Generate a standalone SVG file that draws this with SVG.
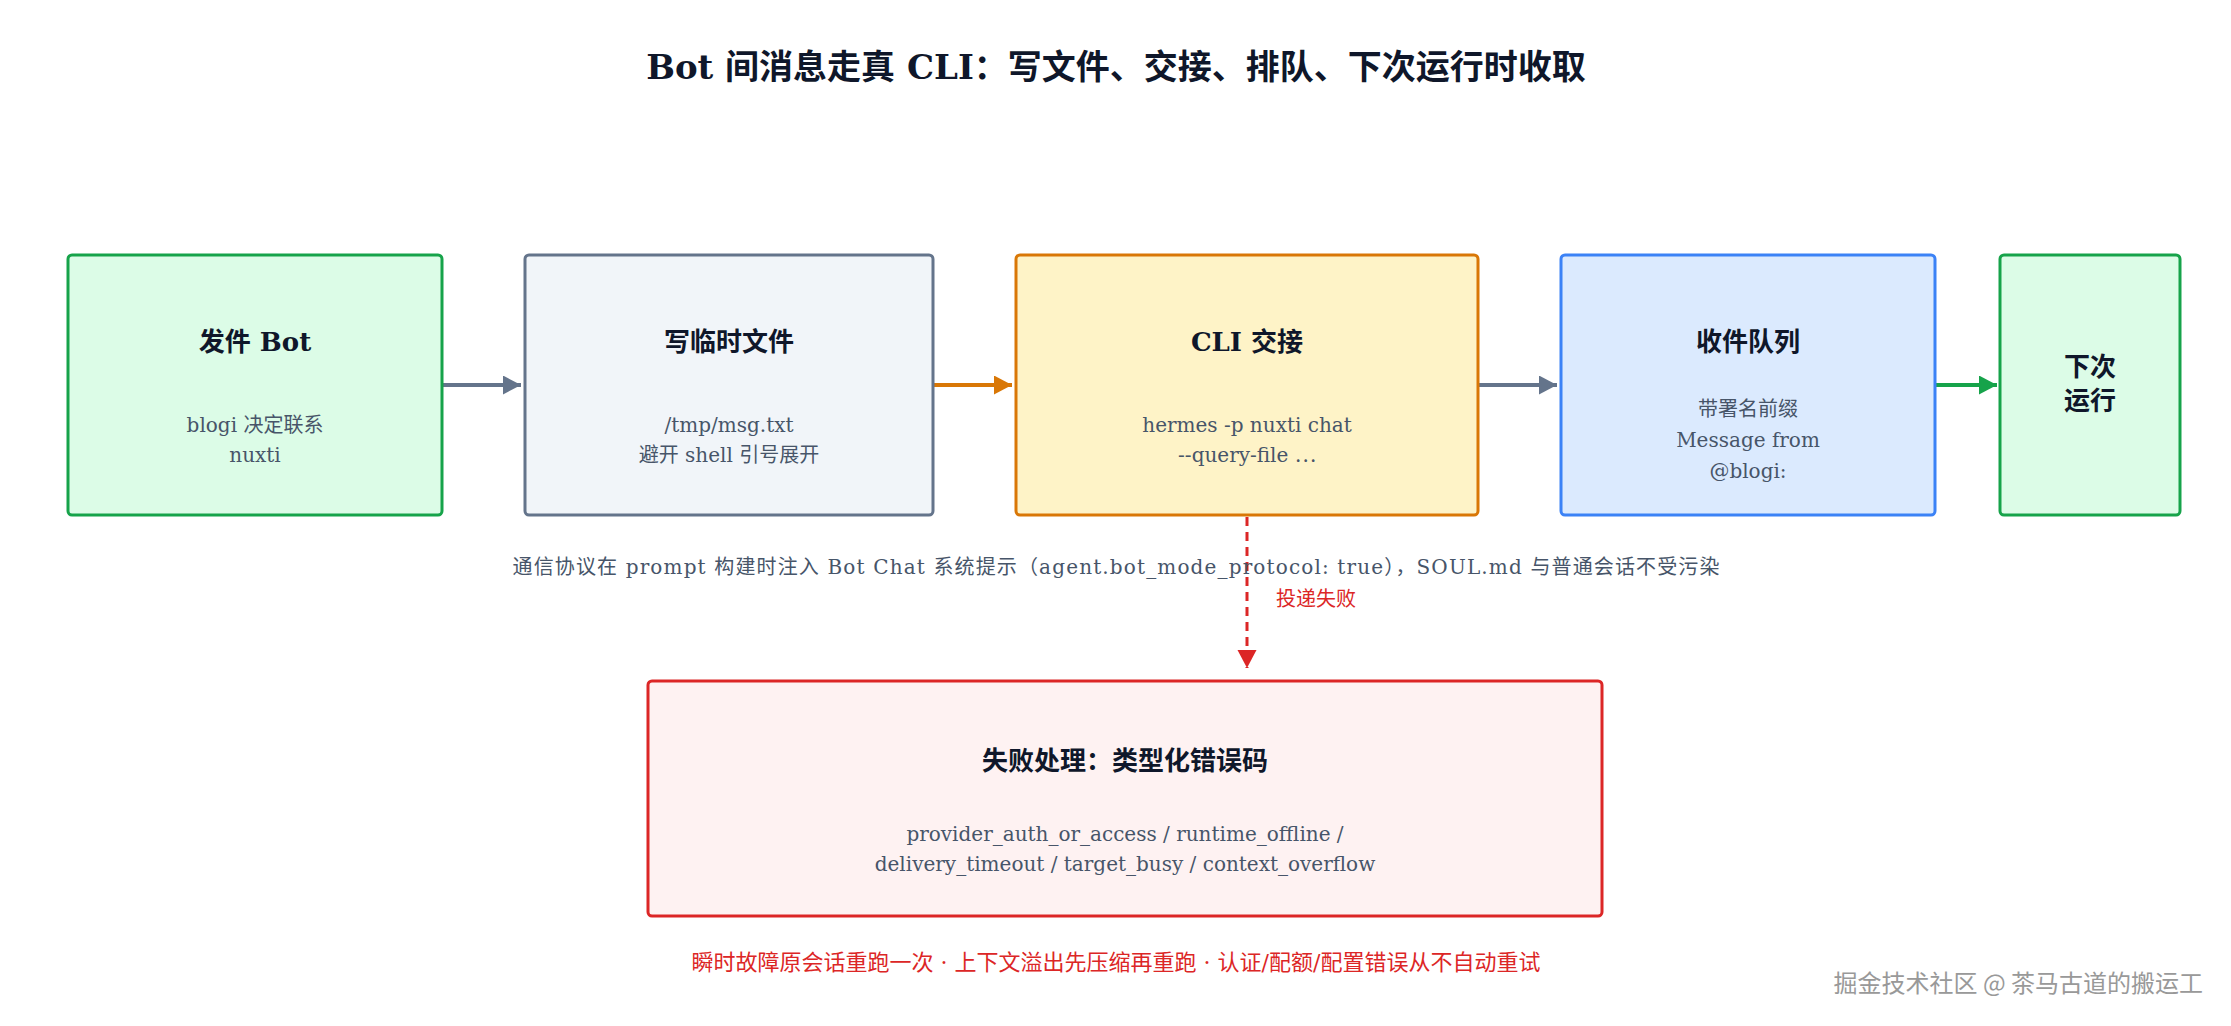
<svg xmlns="http://www.w3.org/2000/svg" width="2231" height="1026" viewBox="0 0 2231 1026">
<style>
.box{stroke-width:3}
.t{font-family:"DejaVu Serif","Noto Sans CJK SC",serif;font-weight:bold;fill:#0f172a;text-anchor:middle}
.s{font-family:"DejaVu Serif","Noto Sans CJK SC",serif;fill:#475569;text-anchor:middle;font-size:20px}
.red{font-family:"DejaVu Serif","Noto Sans CJK SC",serif;fill:#dc2626}
.green{fill:#dcfce7;stroke:#16a34a}
.slate{fill:#f1f5f9;stroke:#64748b}
.amber{fill:#fef3c7;stroke:#d97706}
.blue{fill:#dbeafe;stroke:#3b82f6}
.rose{fill:#fef2f2;stroke:#dc2626}
</style>
<defs>
<marker id="hSlate" markerUnits="userSpaceOnUse" markerWidth="19" markerHeight="20" refX="18" refY="9.5" orient="auto"><path d="M0,0 L18,9.5 L0,19 z" fill="#64748b"/></marker>
<marker id="hAmber" markerUnits="userSpaceOnUse" markerWidth="19" markerHeight="20" refX="18" refY="9.5" orient="auto"><path d="M0,0 L18,9.5 L0,19 z" fill="#d97706"/></marker>
<marker id="hGreen" markerUnits="userSpaceOnUse" markerWidth="19" markerHeight="20" refX="18" refY="9.5" orient="auto"><path d="M0,0 L18,9.5 L0,19 z" fill="#16a34a"/></marker>
<marker id="hRed" markerUnits="userSpaceOnUse" markerWidth="19" markerHeight="20" refX="18" refY="9.5" orient="auto"><path d="M0,0 L18,9.5 L0,19 z" fill="#dc2626"/></marker>
</defs>
<rect width="2231" height="1026" fill="#ffffff"/>
<text class="t" x="1116" y="79" font-size="34">Bot 间消息走真 CLI：写文件、交接、排队、下次运行时收取</text>

<g id="connectors" fill="none" stroke-width="4">
<line x1="443" y1="385" x2="521" y2="385" stroke="#64748b" marker-end="url(#hSlate)"/>
<line x1="934" y1="385" x2="1012" y2="385" stroke="#d97706" marker-end="url(#hAmber)"/>
<line x1="1479" y1="385" x2="1557" y2="385" stroke="#64748b" marker-end="url(#hSlate)"/>
<line x1="1936" y1="385" x2="1997" y2="385" stroke="#16a34a" marker-end="url(#hGreen)"/>
<line x1="1247" y1="517" x2="1247" y2="668" stroke="#dc2626" stroke-width="3" stroke-dasharray="9 6" marker-end="url(#hRed)"/>
<text class="red" x="1276" y="606" font-size="20">投递失败</text>
</g>

<g id="node-sender">
<rect class="box green" x="68" y="255" width="374" height="260" rx="4"/>
<text class="t" x="255" y="351" font-size="26">发件 Bot</text>
<text class="s" x="255" y="432">blogi 决定联系</text>
<text class="s" x="255" y="462">nuxti</text>
</g>

<g id="node-tempfile">
<rect class="box slate" x="525" y="255" width="408" height="260" rx="4"/>
<text class="t" x="729" y="351" font-size="26">写临时文件</text>
<text class="s" x="729" y="432">/tmp/msg.txt</text>
<text class="s" x="729" y="462">避开 shell 引号展开</text>
</g>

<g id="node-cli">
<rect class="box amber" x="1016" y="255" width="462" height="260" rx="4"/>
<text class="t" x="1247" y="351" font-size="26">CLI 交接</text>
<text class="s" x="1247" y="432">hermes -p nuxti chat</text>
<text class="s" x="1247" y="462">--query-file <tspan font-family="Noto Sans CJK SC, sans-serif">⋯</tspan></text>
</g>

<g id="node-queue">
<rect class="box blue" x="1561" y="255" width="374" height="260" rx="4"/>
<text class="t" x="1748" y="351" font-size="26">收件队列</text>
<text class="s" x="1748" y="416">带署名前缀</text>
<text class="s" x="1748" y="447">Message from</text>
<text class="s" x="1748" y="478">@blogi:</text>
</g>

<g id="node-next">
<rect class="box green" x="2000" y="255" width="180" height="260" rx="4"/>
<text class="t" x="2090" y="376" font-size="26">下次</text>
<text class="t" x="2090" y="410" font-size="26">运行</text>
</g>

<text class="s" x="1116" y="574" font-size="22" textLength="1207" lengthAdjust="spacing">通信协议在 prompt 构建时注入 Bot Chat 系统提示（agent.bot_mode_protocol: true），SOUL.md 与普通会话不受污染</text>

<g id="node-failure">
<rect class="box rose" x="648" y="681" width="954" height="235" rx="4"/>
<text class="t" x="1125" y="770" font-size="26">失败处理：类型化错误码</text>
<text class="s" x="1125" y="841">provider_auth_or_access / runtime_offline /</text>
<text class="s" x="1125" y="871">delivery_timeout / target_busy / context_overflow</text>
</g>

<text class="red" x="1116" y="970" font-size="22" text-anchor="middle">瞬时故障原会话重跑一次 · 上下文溢出先压缩再重跑 · 认证/配额/配置错误从不自动重试</text>
<text x="2203" y="992" font-size="24" text-anchor="end" font-family="Noto Sans CJK SC, sans-serif" fill="#999999">掘金技术社区 @ 茶马古道的搬运工</text>
</svg>
